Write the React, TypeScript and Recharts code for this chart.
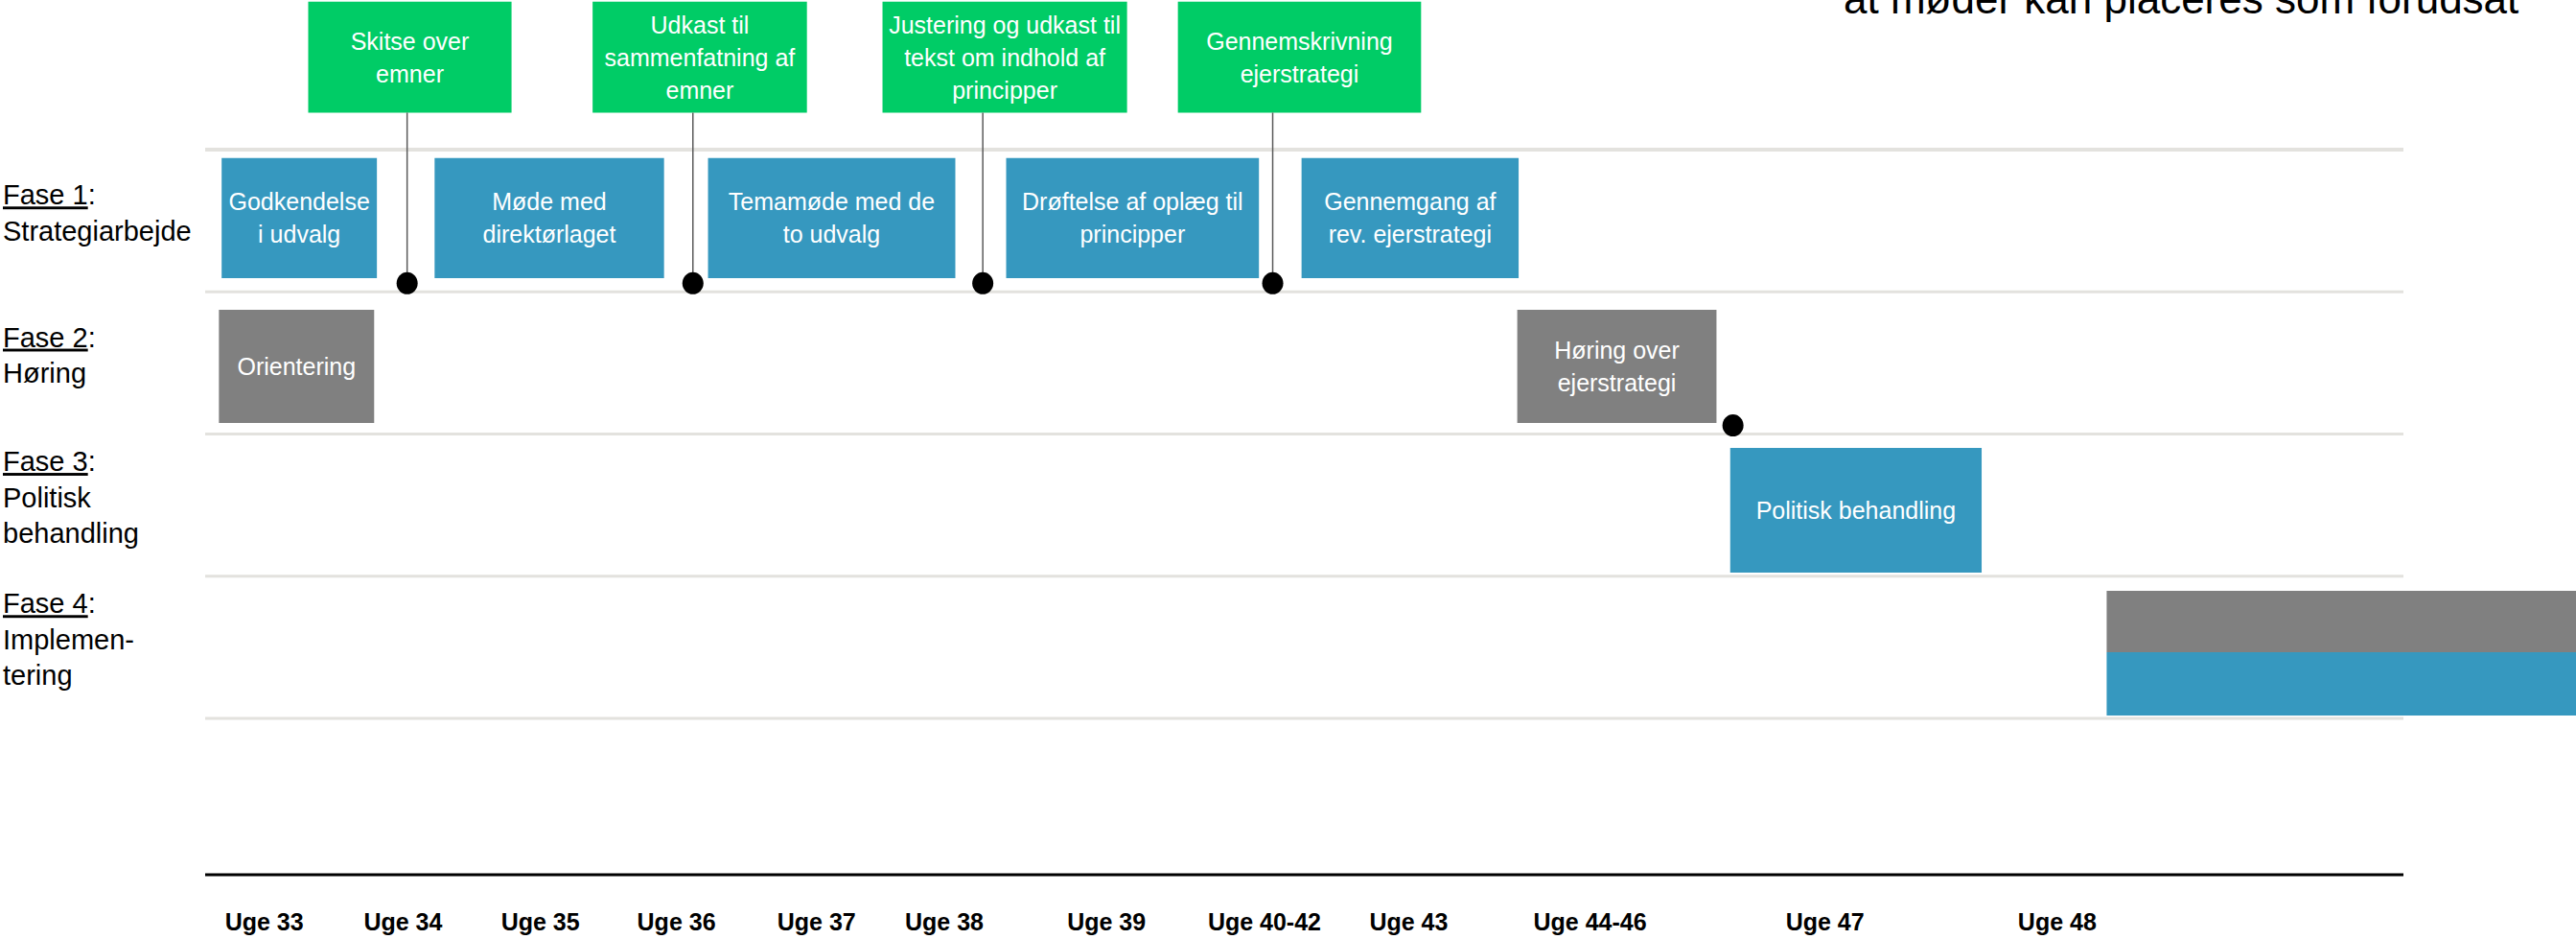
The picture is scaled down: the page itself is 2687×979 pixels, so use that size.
import React from "react";
import {
  ComposedChart,
  XAxis,
  YAxis,
  ReferenceArea,
  ReferenceLine,
  Scatter,
} from "recharts";

// x = uger på tidslinjen (ikke-lineær, som i oplægget), y = fase-rækker (0..3)
const weekLabels = [
  "Uge 33", "Uge 34", "Uge 35", "Uge 36", "Uge 37", "Uge 38",
  "Uge 39", "Uge 40-42", "Uge 43", "Uge 44-46", "Uge 47", "Uge 48",
];
const weekTicks = [0.43, 1.44, 2.44, 3.43, 4.45, 5.38, 6.56, 7.71, 8.76, 10.08, 11.79, 13.48];

const phaseTitles = ["Fase 1", "Fase 2", "Fase 3", "Fase 4"];
const phaseNames = [["Strategiarbejde"], ["Høring"], ["Politisk", "behandling"], ["Implemen-", "tering"]];

// møder (blå) og høringer (grå) pr. række
const activities = [
  { row: 0, start: 0.12, end: 1.25, kind: "møde", text: ["Godkendelse", "i udvalg"] },
  { row: 0, start: 1.67, end: 3.34, kind: "møde", text: ["Møde med", "direktørlaget"] },
  { row: 0, start: 3.66, end: 5.46, kind: "møde", text: ["Temamøde med de", "to udvalg"] },
  { row: 0, start: 5.83, end: 7.67, kind: "møde", text: ["Drøftelse af oplæg til", "principper"] },
  { row: 0, start: 7.98, end: 9.56, kind: "møde", text: ["Gennemgang af", "rev. ejerstrategi"] },
  { row: 1, start: 0.1, end: 1.23, kind: "høring", text: ["Orientering"] },
  { row: 1, start: 9.55, end: 11.0, kind: "høring", text: ["Høring over", "ejerstrategi"] },
  { row: 2, start: 11.1, end: 12.93, kind: "møde", text: ["Politisk behandling"] },
];

// implementering: grå + blå bånd, løber ud over kanten
const implementation = { start: 13.84, end: 17.3 };

// leverancer (grønne) med frist-prik
const deliverables = [
  { start: 0.75, end: 2.23, due: 1.47, text: ["Skitse over", "emner"] },
  { start: 2.82, end: 4.38, due: 3.55, text: ["Udkast til", "sammenfatning af", "emner"] },
  { start: 4.93, end: 6.71, due: 5.66, text: ["Justering og udkast til", "tekst om indhold af", "principper"] },
  { start: 7.08, end: 8.85, due: 7.77, text: ["Gennemskrivning", "ejerstrategi"] },
];

const milestones = [
  { week: 1.47, row: 0 },
  { week: 3.55, row: 0 },
  { week: 5.66, row: 0 },
  { week: 7.77, row: 0 },
  { week: 11.12, row: 1 },
];

const C = {
  blue: "#3698BF",
  grey: "#808080",
  green: "#00CC66",
  grid: "#E3E2DE",
  stem: "#5A5A5A",
  ink: "#000000",
};
const FONT = "'Liberation Sans', Arial, sans-serif";

// lodret placering af kasserne i hver række (styling)
const rowInset = [
  [0.06, 0.905],
  [0.126, 0.922],
  [0.098, 0.975],
];
const greenTop = -1.04;
const greenBottom = -0.26;

function BoxText({ viewBox, lines }: any) {
  const { x, y, width, height } = viewBox;
  const cx = x + width / 2;
  const cy = y + height / 2;
  const lh = 34;
  return (
    <text textAnchor="middle" fill="#fff" fontSize={25} fontFamily={FONT}>
      {lines.map((l: string, i: number) => (
        <tspan key={i} x={cx} y={cy + (i - (lines.length - 1) / 2) * lh + 9}>
          {l}
        </tspan>
      ))}
    </text>
  );
}

function WeekTick({ x, y, index }: any) {
  return (
    <text x={x} y={y + 58} textAnchor="middle" fontSize={25} fontWeight="bold" fontFamily={FONT} fill={C.ink}>
      {weekLabels[index]}
    </text>
  );
}

function PhaseTick({ y, index }: any) {
  const lines = phaseNames[index];
  const n = lines.length + 1;
  const lh = 37.5;
  const first = y - ((n - 1) * lh) / 2 + 2;
  return (
    <text fontSize={29} fontFamily={FONT} fill={C.ink} textAnchor="start">
      <tspan x={3} y={first} style={{ textDecoration: "underline" }}>
        {phaseTitles[index]}
      </tspan>
      <tspan>:</tspan>
      {lines.map((l, i) => (
        <tspan key={i} x={3} y={first + (i + 1) * lh}>
          {l}
        </tspan>
      ))}
    </text>
  );
}

export default function App() {
  const dots = milestones.map((m) => ({ x: m.week, y: m.row + 0.94 }));
  return (
    <div style={{ position: "absolute", left: 0, top: 0, width: 2687, height: 979, overflow: "hidden", background: "#fff" }}>
      <ComposedChart width={2687} height={979} margin={{ top: 0, right: 180, bottom: 0, left: 0 }}>
        <XAxis
          type="number"
          dataKey="x"
          domain={[0, 16]}
          allowDataOverflow
          ticks={weekTicks}
          interval={0}
          tick={<WeekTick />}
          tickLine={false}
          tickSize={0}
          tickMargin={0}
          height={67}
          axisLine={{ stroke: C.ink, strokeWidth: 3 }}
        />
        <YAxis
          type="number"
          dataKey="y"
          domain={[-1.052, 5.1]}
          allowDataOverflow
          reversed
          ticks={[0.5, 1.5, 2.5, 3.5]}
          interval={0}
          tick={<PhaseTick />}
          tickLine={false}
          axisLine={false}
          width={214}
        />
        {[0, 1, 2, 3, 4].map((b) => (
          <ReferenceLine key={b} y={b} stroke={C.grid} strokeWidth={b === 0 ? 4 : 3} ifOverflow="visible" />
        ))}
        {deliverables.map((d, i) => (
          <ReferenceLine
            key={"s" + i}
            segment={[
              { x: d.due, y: greenBottom },
              { x: d.due, y: 0.93 },
            ]}
            stroke={C.stem}
            strokeWidth={1.5}
            ifOverflow="visible"
          />
        ))}
        {deliverables.map((d, i) => (
          <ReferenceArea
            key={"g" + i}
            x1={d.start}
            x2={d.end}
            y1={greenTop}
            y2={greenBottom}
            fill={C.green}
            fillOpacity={1}
            stroke="none"
            ifOverflow="visible"
            label={<BoxText lines={d.text} />}
          />
        ))}
        {activities.map((a, i) => (
          <ReferenceArea
            key={"a" + i}
            x1={a.start}
            x2={a.end}
            y1={a.row + rowInset[a.row][0]}
            y2={a.row + rowInset[a.row][1]}
            fill={a.kind === "møde" ? C.blue : C.grey}
            fillOpacity={1}
            stroke="none"
            ifOverflow="visible"
            label={<BoxText lines={a.text} />}
          />
        ))}
        <ReferenceArea
          x1={implementation.start}
          x2={implementation.end}
          y1={3.103}
          y2={3.535}
          fill={C.grey}
          fillOpacity={1}
          stroke="none"
          ifOverflow="visible"
        />
        <ReferenceArea
          x1={implementation.start}
          x2={implementation.end}
          y1={3.535}
          y2={3.98}
          fill={C.blue}
          fillOpacity={1}
          stroke="none"
          ifOverflow="visible"
        />
        <Scatter
          data={dots}
          dataKey="y"
          isAnimationActive={false}
          shape={(p: any) => <ellipse cx={p.cx} cy={p.cy} rx={11} ry={11.5} fill={C.ink} />}
        />
      </ComposedChart>
      <svg width={2687} height={979} style={{ position: "absolute", left: 0, top: 0, pointerEvents: "none" }}>
        <text x={1923} y={14} fontSize={44} fontFamily={FONT} fill={C.ink}>
          at møder kan placeres som forudsat
        </text>
      </svg>
    </div>
  );
}
